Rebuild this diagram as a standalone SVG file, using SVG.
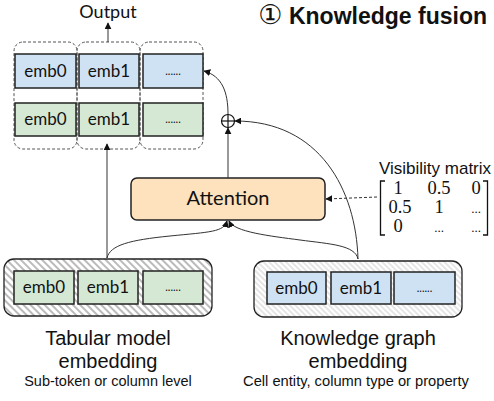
<svg xmlns="http://www.w3.org/2000/svg" width="494" height="401" viewBox="0 0 494 401">
<style>
.cal{font-family:Lato,"Open Sans",sans-serif;fill:#111}
.ar{font-family:"Liberation Sans",Arial,sans-serif;fill:#111}
.ser{font-family:"Liberation Serif","Times New Roman",serif;fill:#111}
.blue{fill:#cfe2f3;stroke:#222;stroke-width:1.5}
.green{fill:#d5e8d4;stroke:#222;stroke-width:1.5}
.grp{fill:none;stroke:#555;stroke-width:1;stroke-dasharray:3 2}
.con{fill:none;stroke:#333;stroke-width:1}
.emb{font-size:17px;text-anchor:middle}
.dots{font-size:11px;text-anchor:middle}
</style>
<defs>
<marker id="ah" viewBox="0 0 10 10" refX="9" refY="5" markerWidth="7" markerHeight="7" orient="auto" markerUnits="userSpaceOnUse">
<path d="M0,0 L10,5 L0,10 z" fill="#111"/>
</marker>
<pattern id="hatchD" patternUnits="userSpaceOnUse" width="5" height="5" patternTransform="rotate(-45)">
<rect width="5" height="5" fill="#fff"/>
<line x1="1" y1="0" x2="1" y2="5" stroke="#aaa" stroke-width="1.6"/>
</pattern>
<pattern id="hatchL" patternUnits="userSpaceOnUse" width="4" height="4" patternTransform="rotate(-45)">
<rect width="4" height="4" fill="#fff"/>
<line x1="1" y1="0" x2="1" y2="4" stroke="#ccc" stroke-width="1"/>
</pattern>
</defs>

<text class="ar" x="487" y="24" font-size="23" font-weight="bold" text-anchor="end"><tspan font-family="DejaVu Sans" font-weight="normal" font-size="27">①</tspan> Knowledge fusion</text>

<g id="output">
<text class="cal" x="108" y="18" font-size="18" text-anchor="middle">Output</text>
</g>

<g id="output-grid">
<rect class="grp" x="14" y="42" width="63" height="107" rx="9"/>
<rect class="grp" x="77" y="42" width="63" height="107" rx="9"/>
<rect class="grp" x="140" y="42" width="63" height="107" rx="9"/>
<rect class="blue" x="15" y="54" width="61" height="34"/>
<rect class="blue" x="79" y="54" width="60" height="34"/>
<rect class="blue" x="143" y="54" width="60" height="34"/>
<rect class="green" x="15" y="103" width="61" height="33"/>
<rect class="green" x="79" y="103" width="60" height="33"/>
<rect class="green" x="143" y="103" width="60" height="33"/>
<text class="cal emb" x="45.5" y="77">emb0</text>
<text class="cal emb" x="109" y="77">emb1</text>
<text class="cal dots" x="173" y="75">......</text>
<text class="cal emb" x="45.5" y="125">emb0</text>
<text class="cal emb" x="109" y="125">emb1</text>
<text class="cal dots" x="173" y="123">......</text>
</g>

<g id="plus">
<circle cx="228" cy="121" r="6.5" fill="#fff" stroke="#111" stroke-width="1.2"/>
<line x1="221.5" y1="121" x2="234.5" y2="121" stroke="#111" stroke-width="1.2"/>
<line x1="228" y1="114.5" x2="228" y2="127.5" stroke="#111" stroke-width="1.2"/>
</g>

<g id="attention">
<rect x="131" y="178" width="194" height="42" rx="6" fill="#fde2bd" stroke="#222" stroke-width="1.5"/>
<text class="cal" x="228" y="205" font-size="20" text-anchor="middle">Attention</text>
</g>

<g id="visibility-matrix">
<text class="ar" x="435" y="174" font-size="17" text-anchor="middle">Visibility matrix</text>
<path d="M385,181 H380.5 V235 H385 M483,181 H487.5 V235 H483" fill="none" stroke="#111" stroke-width="1.3"/>
<g class="ser" font-size="18.5" text-anchor="middle">
<text x="398" y="194">1</text><text x="439" y="194">0.5</text><text x="476" y="194">0</text>
<text x="400" y="213">0.5</text><text x="439" y="213">1</text><text x="476" y="213" font-size="13">...</text>
<text x="398" y="232">0</text><text x="439" y="232" font-size="13">...</text><text x="476" y="232" font-size="13">...</text>
</g>
</g>

<g id="tabular">
<rect x="4" y="259" width="208" height="57" rx="10" fill="url(#hatchD)" stroke="#222" stroke-width="1.3"/>
<rect class="green" x="14" y="271" width="60" height="33"/>
<rect class="green" x="78" y="271" width="60" height="33"/>
<rect class="green" x="143" y="271" width="60" height="33"/>
<text class="cal emb" x="44" y="293">emb0</text>
<text class="cal emb" x="108" y="293">emb1</text>
<text class="cal dots" x="173" y="291">......</text>
<text class="ar" x="108" y="345" font-size="20" text-anchor="middle">Tabular model</text>
<text class="ar" x="108" y="368" font-size="20" text-anchor="middle">embedding</text>
<text class="ar" x="108" y="386" font-size="14.5" text-anchor="middle">Sub-token or column level</text>
</g>

<g id="kg">
<rect x="254" y="261" width="208" height="56" rx="10" fill="url(#hatchL)" stroke="#222" stroke-width="1.3"/>
<rect class="blue" x="267" y="272" width="59" height="32"/>
<rect class="blue" x="331" y="272" width="60" height="32"/>
<rect class="blue" x="394" y="272" width="61" height="32"/>
<text class="cal emb" x="296.5" y="294">emb0</text>
<text class="cal emb" x="361" y="294">emb1</text>
<text class="cal dots" x="424.5" y="292">......</text>
<text class="ar" x="358" y="345" font-size="20" text-anchor="middle">Knowledge graph</text>
<text class="ar" x="358" y="368" font-size="20" text-anchor="middle">embedding</text>
<text class="ar" x="356" y="386" font-size="14.7" text-anchor="middle">Cell entity, column type or property</text>
</g>

<g id="connectors">
<path class="con" d="M108,42 V23" marker-end="url(#ah)"/>
<path class="con" d="M107,258 V144" marker-end="url(#ah)"/>
<path class="con" d="M228,178 V128" marker-end="url(#ah)"/>
<path class="con" d="M228,114 C228,92 222,76 204,71" marker-end="url(#ah)"/>
<path class="con" d="M358,259 C356,190 320,121 235,121" marker-end="url(#ah)"/>
<path class="con" d="M107,258 C110,245 130,240 170,236 S224,232 227,221" marker-end="url(#ah)"/>
<path class="con" d="M358,259 C355,245 330,244 300,240 S234,232 229,221" marker-end="url(#ah)"/>
<path class="con" d="M377,197 L326,199" stroke-dasharray="3 2" marker-end="url(#ah)"/>
</g>
</svg>
